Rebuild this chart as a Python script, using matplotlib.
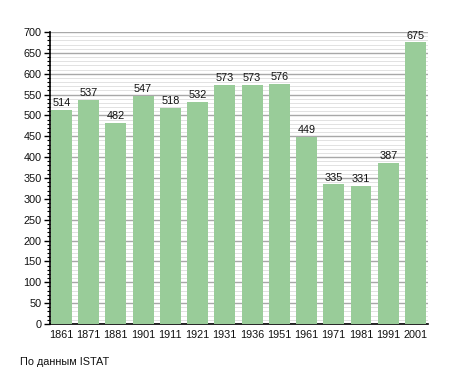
import matplotlib
matplotlib.use("Agg")
import matplotlib.pyplot as plt
from matplotlib.ticker import MultipleLocator

years = ["1861", "1871", "1881", "1901", "1911", "1921", "1931", "1936",
         "1951", "1961", "1971", "1981", "1991", "2001"]
population = [514, 537, 482, 547, 518, 532, 573, 573, 576, 449, 335, 331, 387, 675]

plt.rcParams['font.family'] = ['Liberation Sans', 'DejaVu Sans']
FS = 7.8

fig = plt.figure(figsize=(4.55, 3.73), dpi=100)
ax = fig.add_axes([50/455, 49/373, 378/455, 292/373])

x = range(len(years))
ax.bar(x, population, width=0.77, color="#99cc99", zorder=3)
for xi, v in zip(x, population):
    ax.text(xi, v + 4, str(v), ha="center", va="bottom", fontsize=FS, color="#111111", zorder=4)

ax.set_ylim(0, 700)
ax.set_xlim(-0.42, 13.46)
ax.yaxis.set_major_locator(MultipleLocator(50))
ax.yaxis.set_minor_locator(MultipleLocator(10))
ax.grid(axis="y", which="major", color="#a8a8a8", linewidth=1.0, zorder=0)
ax.grid(axis="y", which="minor", color="#e2e2e2", linewidth=0.7, zorder=0)
ax.set_xticks(list(x))
ax.set_xticklabels(years)
ax.tick_params(axis="x", length=0, labelsize=FS, pad=4, labelcolor="#111111")
ax.tick_params(axis="y", which="major", length=4, width=1, labelsize=FS, pad=2, labelcolor="#111111")
ax.tick_params(axis="y", which="minor", length=2, width=0.8)
for s in ["top", "right"]:
    ax.spines[s].set_visible(False)
ax.spines["left"].set_linewidth(1.2)
ax.spines["bottom"].set_linewidth(1.2)
ax.set_axisbelow(True)

fig.text(20/455, 1 - 362/373, "По данным ISTAT", fontsize=FS, va="center", ha="left", color="#111111")

fig.savefig("out.png", dpi=100)
